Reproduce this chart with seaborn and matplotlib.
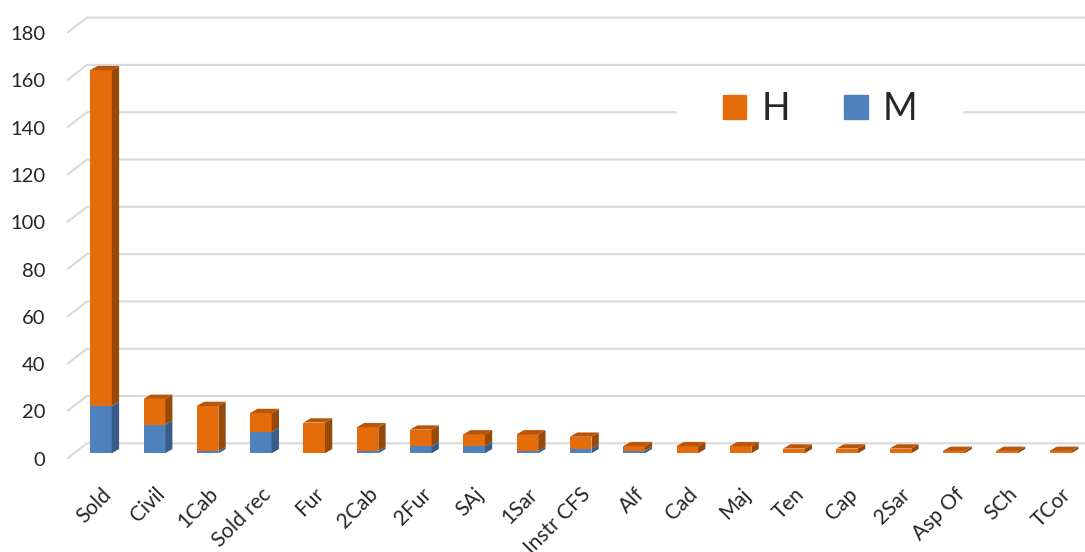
import matplotlib
matplotlib.use("Agg")
import matplotlib.pyplot as plt
import seaborn as sns
import pandas as pd
from matplotlib.patches import Polygon, Patch, Rectangle

categories = ["Sold", "Civil", "1Cab", "Sold rec", "Fur", "2Cab", "2Fur", "SAj", "1Sar",
              "Instr CFS", "Alf", "Cad", "Maj", "Ten", "Cap", "2Sar", "Asp Of", "SCh", "TCor"]
h_values = [142, 11, 19, 8, 13, 10, 7, 5, 7, 5, 2, 3, 3, 2, 2, 2, 1, 1, 1]
m_values = [20, 12, 1, 9, 0, 1, 3, 3, 1, 2, 1, 0, 0, 0, 0, 0, 0, 0, 0]
y_ticks = [0, 20, 40, 60, 80, 100, 120, 140, 160, 180]

orange, orange_side, orange_top = "#E46C0A", "#984807", "#B9560A"
blue, blue_side = "#4F81BD", "#385D8A"
grid_color = "#D9D9D9"

df = pd.DataFrame({"cat": categories,
                   "total": [h + m for h, m in zip(h_values, m_values)],
                   "M": m_values})

sns.set_style("white")
plt.rcParams["font.family"] = ["Lato", "DejaVu Sans"]

W, H = 1085, 552
fig = plt.figure(figsize=(W / 100, H / 100), dpi=100)
ax = fig.add_axes([67 / W, 91.6 / H, 1018 / W, 451.7 / H])

# pixel scales of the reference
px_x = 53.3
px_y = 2.365
bar_w = 0.405

sns.barplot(data=df, x="cat", y="total", color=orange, saturation=1, width=bar_w,
            linewidth=0, ax=ax, zorder=3)
sns.barplot(data=df, x="cat", y="M", color=blue, saturation=1, width=bar_w,
            linewidth=0, ax=ax, zorder=3)

x_left = (67 - 101) / px_x
ax.set_xlim(x_left, (1085 - 101) / px_x)
ax.set_ylim(-3, 188)

# fake 3D depth for the bars
dx = 7.3 / px_x
dy = 4.3 / px_y
n = len(categories)
tot_patches = ax.patches[:n]
for i, p in enumerate(tot_patches):
    x0 = p.get_x()
    x1 = x0 + p.get_width()
    t = df["total"][i]
    m = df["M"][i]
    if m > 0:
        ax.add_patch(Polygon([(x1, 0), (x1 + dx, dy), (x1 + dx, m + dy), (x1, m)],
                             closed=True, color=blue_side, lw=0, zorder=3))
    ax.add_patch(Polygon([(x1, m), (x1 + dx, m + dy), (x1 + dx, t + dy), (x1, t)],
                         closed=True, color=orange_side, lw=0, zorder=3))
    ax.add_patch(Polygon([(x0, t), (x0 + dx, t + dy), (x1 + dx, t + dy), (x1, t)],
                         closed=True, color=orange_top, lw=0, zorder=3))

# gridlines on back wall and side wall
back_off = 10 / px_y
front_off = 5.4 / px_y
x_wall = x_left + 20 / px_x
x_right = ax.get_xlim()[1]
for v in y_ticks:
    ax.plot([x_left, x_wall, x_right], [v - front_off, v + back_off, v + back_off],
            color=grid_color, lw=1.5, zorder=1, solid_capstyle="butt", clip_on=False)

ax.set_yticks([v - front_off for v in y_ticks], [str(v) for v in y_ticks])
ax.tick_params(axis="y", length=0, pad=15.5, labelsize=14.5)
ax.tick_params(axis="x", length=0, pad=17, labelsize=15)
for lab in ax.get_xticklabels():
    lab.set_rotation(45)
    lab.set_ha("right")
    lab.set_va("top")
    lab.set_rotation_mode("anchor")
ax.set_xlabel("")
ax.set_ylabel("")
for s in ax.spines.values():
    s.set_visible(False)

# legend with white backing
fig.patches.append(Rectangle((677 / W, 1 - 150 / H), 285 / W, 78 / H,
                             transform=fig.transFigure, color="white", zorder=5))
handles = [Patch(color=orange, label="H"), Patch(color=blue, label="M")]
leg = fig.legend(handles=handles, loc="center", bbox_to_anchor=(820 / W, 1 - 109 / H),
                 ncol=2, frameon=False, fontsize=27, handlelength=0.63, handleheight=0.63,
                 handletextpad=0.4, columnspacing=1.45)
leg.set_zorder(6)

fig.savefig("out.png", dpi=100)
